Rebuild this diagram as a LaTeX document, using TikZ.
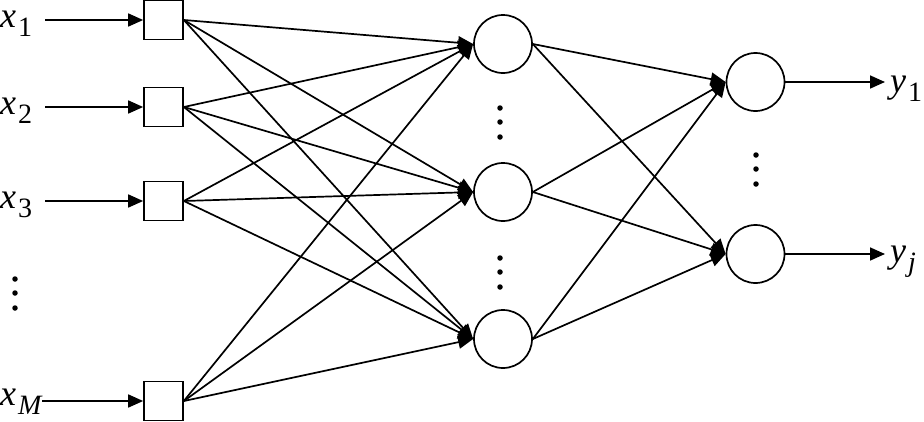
\documentclass[tikz,border=0pt]{standalone}
\usepackage{fontspec}
\setmainfont{Liberation Serif}
\newfontfamily\tnr{Liberation Serif}
\usetikzlibrary{arrows.meta}
\tikzset{
  sq/.style={draw, line width=1.7pt, minimum size=39pt, inner sep=0pt, fill=white},
  nd/.style={draw, circle, line width=1.7pt, minimum size=58pt, inner sep=0pt},
  arr/.style={line width=1.7pt, -{Triangle[length=15pt,width=13pt]}},
  dotc/.style={circle, fill=black, inner sep=0pt, minimum size=5.5pt},
  lab/.style={inner sep=0pt, font=\tnr\fontsize{36}{36}\selectfont},
}
\newcommand{\vlab}[2]{{\itshape #1}\hspace{2pt}\raisebox{-9pt}{\fontsize{28}{28}\selectfont #2}}
\begin{document}
\begin{tikzpicture}[x=1pt,y=-1pt]
\useasboundingbox (0,0) rectangle (924,421);
% input squares
\node[sq] (s1) at (163.5,20) {};
\node[sq] (s2) at (163.5,107) {};
\node[sq] (s3) at (163.5,201) {};
\node[sq] (s4) at (163.5,401) {};
% hidden
\node[nd] (h1) at (503,44) {};
\node[nd] (h2) at (503,192) {};
\node[nd] (h3) at (503,339) {};
% output
\node[nd] (o1) at (755.5,82) {};
\node[nd] (o2) at (755.5,254) {};
% input labels
\node[lab, anchor=base west] (l1) at (0,27) {\vlab{x}{1}};
\node[lab, anchor=base west] (l2) at (0,114) {\vlab{x}{2}};
\node[lab, anchor=base west] (l3) at (0,208) {\vlab{x}{3}};
\node[lab, anchor=base west] (l4) at (0,405) {\vlab{x}{\itshape M}};
\coordinate (a1) at (45,20);
\coordinate (a2) at (45,107);
\coordinate (a3) at (45,201);
\coordinate (a4) at (42,401);
\foreach \i in {1,2,3,4} \draw[arr] (a\i) -- (s\i.west);
% input -> hidden
\foreach \i in {1,2,3,4}
  \foreach \j in {1,2,3}
    \draw[arr] (s\i.east) -- (h\j.west);
% hidden -> output
\foreach \j in {1,2,3}
  \foreach \k in {1,2}
    \draw[arr] (h\j.east) -- (o\k.west);
% outputs
\coordinate (b1) at (885,82);
\coordinate (b2) at (885,254);
\draw[arr] (o1.east) -- (b1);
\draw[arr] (o2.east) -- (b2);
\node[lab, anchor=base west] (m1) at (890,92) {\vlab{y}{1}};
\node[lab, anchor=base west] (m2) at (890,262) {\vlab{y}{\itshape j}};
% dots
\foreach \y [count=\n] in {279,293,308} \node[dotc] (dl\n) at (15,\y) {};
\foreach \y [count=\n] in {108,122,137} \node[dotc] (da\n) at (500,\y) {};
\foreach \y [count=\n] in {258,272,287} \node[dotc] (db\n) at (500,\y) {};
\foreach \y [count=\n] in {155,169,184} \node[dotc] (dc\n) at (756,\y) {};
\end{tikzpicture}
\end{document}
